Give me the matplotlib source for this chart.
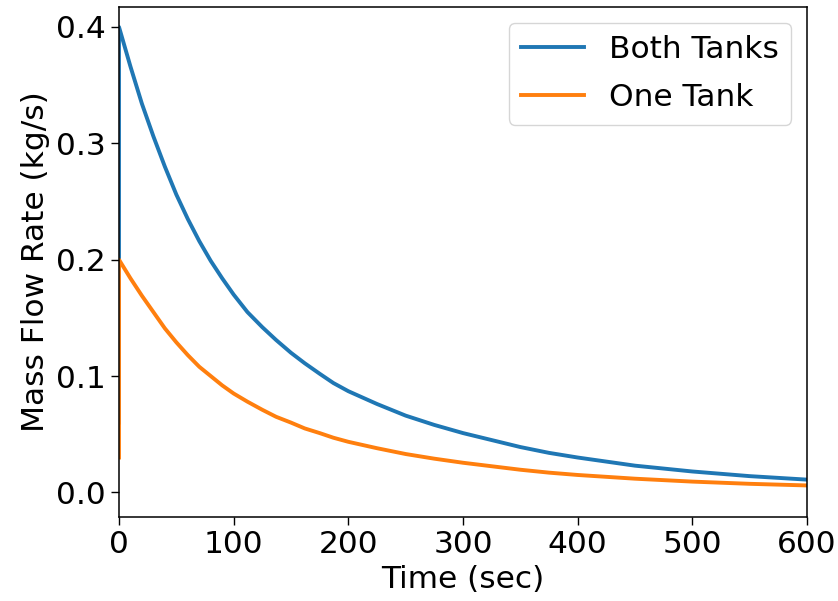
import matplotlib
matplotlib.use('Agg')
import matplotlib.pyplot as plt

# values (time in s, flow in kg/s)
# first sample is the start-up value, drawn as a jump at t = 0
time_s = [0, 0, 10, 20, 30, 40, 50, 60, 70, 80, 90, 100, 112, 125, 137,
          150, 162, 175, 187, 200, 225, 250, 275, 300, 325, 350, 375, 400,
          450, 500, 550, 600]
both_tanks = [0.06, 0.400, 0.366, 0.334, 0.306, 0.280, 0.256, 0.235, 0.216,
              0.199, 0.184, 0.170, 0.155, 0.142, 0.131, 0.120, 0.111, 0.102,
              0.094, 0.087, 0.076, 0.066, 0.058, 0.051, 0.045, 0.039, 0.034,
              0.030, 0.023, 0.018, 0.014, 0.011]
one_tank = [0.03, 0.200, 0.184, 0.169, 0.155, 0.141, 0.129, 0.118, 0.108,
            0.100, 0.092, 0.085, 0.078, 0.071, 0.065, 0.060, 0.055, 0.051,
            0.047, 0.0435, 0.038, 0.033, 0.029, 0.0255, 0.0225, 0.0195,
            0.017, 0.015, 0.0118, 0.0093, 0.0074, 0.006]

plt.rcParams['font.size'] = 22.5

fig = plt.figure(figsize=(8.38, 6.01), dpi=100)
ax = fig.add_axes([0.142, 0.140, 0.821, 0.848])
ax.plot(time_s, both_tanks, color='tab:blue', linewidth=2.8, label='Both Tanks')
ax.plot(time_s, one_tank, color='tab:orange', linewidth=2.8, label='One Tank')
ax.set_xlim(0, 600)
ax.set_ylim(-0.021, 0.417)
ax.set_xticks([0, 100, 200, 300, 400, 500, 600])
ax.set_yticks([0.0, 0.1, 0.2, 0.3, 0.4])
ax.set_xlabel('Time (sec)')
ax.set_ylabel('Mass Flow Rate (kg/s)')
ax.tick_params(length=6, width=1.0)
for s in ax.spines.values():
    s.set_linewidth(1.1)
ax.legend(loc='upper right', labelspacing=0.6)

fig.savefig('out.png', dpi=100)
